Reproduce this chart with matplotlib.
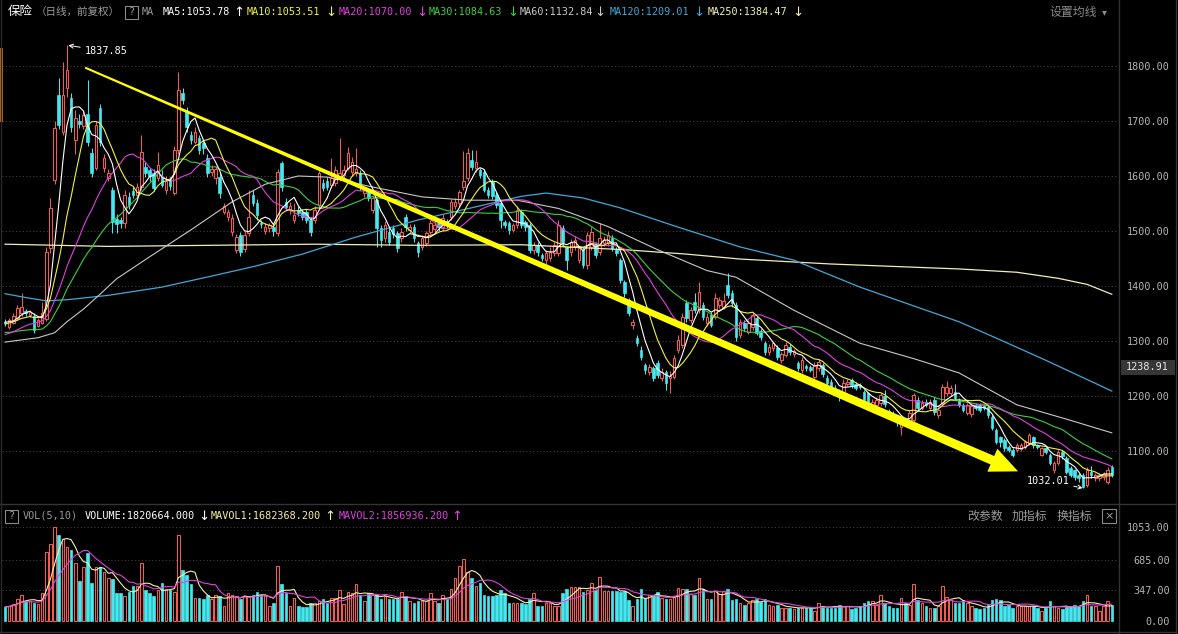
import numpy as np
import pandas as pd
import matplotlib
matplotlib.use("Agg")
import matplotlib.pyplot as plt
from matplotlib.patches import Polygon, Rectangle
from matplotlib.lines import Line2D

# ---------------- data ----------------
open_ = [
1335,1325,1333,1342,1350,1355,1348,1345,1328,1333,
1340,1469,1593,1747,1680,1760,1742,1665,1700,1690,
1712,1642,1615,1724,1615,1596,1575,1522,1520,1514,
1562,1572,1566,1580,1616,1610,1605,1596,1596,1575,
1592,1569,1647,1751,1716,1675,1662,1669,1660,1633,
1608,1596,1598,1535,1525,1498,1465,1493,1468,1496,
1566,1551,1514,1500,1505,1508,1496,1623,1553,1538,
1520,1538,1535,1535,1520,1520,1547,1587,1590,1584,
1587,1596,1602,1615,1607,1605,1605,1569,1571,1538,
1556,1505,1487,1498,1505,1496,1487,1525,1502,1507,
1478,1471,1478,1498,1504,1514,1505,1518,1525,1545,
1551,1580,1596,1629,1614,1611,1607,1575,1591,1566,
1551,1516,1514,1502,1511,1535,1516,1511,1465,1475,
1456,1447,1451,1460,1460,1505,1469,1462,1471,1447,
1465,1438,1471,1475,1462,1478,1478,1487,1465,1447,
1407,1375,1329,1305,1284,1256,1244,1251,1260,1233,
1244,1233,1235,1284,1293,1369,1338,1371,1356,1365,
1333,1347,1344,1365,1362,1402,1387,1365,1311,1333,
1316,1325,1342,1318,1296,1280,1287,1287,1265,1275,
1289,1276,1260,1247,1254,1252,1235,1250,1256,1233,
1226,1215,1209,1205,1222,1229,1222,1220,1207,1205,
1180,1184,1187,1200,1172,1168,1162,1144,1158,1153,
1156,1193,1178,1189,1178,1193,1165,1187,1205,1206,
1207,1193,1184,1169,1167,1184,1184,1182,1180,1162,
1138,1125,1120,1107,1102,1102,1104,1107,1114,1125,
1111,1093,1105,1093,1065,1078,1098,1087,1069,1065,
1056,1056,1038,1062,1050,1050,1053,1044,1071]

high = [
1340,1342,1350,1366,1387,1358,1356,1350,1342,1370,
1470,1560,1700,1778,1807,1837.85,1750,1720,1712,1720,
1775,1650,1700,1730,1640,1612,1580,1530,1525,1575,
1570,1580,1588,1674,1625,1615,1612,1644,1610,1600,
1598,1655,1789,1760,1725,1682,1689,1675,1665,1640,
1620,1618,1605,1550,1540,1530,1495,1498,1500,1575,
1575,1558,1520,1515,1515,1512,1612,1628,1560,1552,
1550,1545,1540,1540,1525,1545,1612,1595,1598,1633,
1618,1669,1620,1652,1635,1651,1610,1580,1575,1565,
1560,1510,1518,1505,1510,1500,1505,1530,1512,1512,
1482,1492,1500,1520,1518,1520,1530,1522,1558,1560,
1575,1645,1650,1647,1647,1615,1612,1580,1595,1570,
1555,1520,1518,1515,1545,1540,1520,1515,1480,1480,
1460,1465,1470,1480,1520,1510,1472,1485,1490,1472,
1470,1498,1508,1480,1514,1490,1500,1492,1470,1450,
1410,1378,1340,1310,1290,1260,1258,1255,1265,1250,
1248,1245,1275,1310,1350,1375,1362,1387,1407,1370,
1350,1352,1387,1380,1387,1424,1392,1370,1340,1338,
1338,1352,1346,1322,1300,1294,1300,1292,1280,1298,
1294,1286,1264,1270,1258,1256,1262,1268,1260,1238,
1230,1220,1212,1230,1230,1233,1226,1224,1210,1208,
1194,1198,1206,1210,1176,1172,1166,1160,1162,1174,
1206,1198,1192,1194,1194,1198,1180,1222,1227,1220,
1222,1197,1188,1188,1186,1188,1188,1186,1184,1166,
1142,1128,1124,1110,1106,1115,1114,1120,1132,1128,
1113,1108,1108,1096,1082,1102,1102,1090,1072,1068,
1060,1060,1070,1073,1060,1060,1062,1070,1075]

low = [
1328,1322,1330,1338,1346,1346,1344,1315,1325,1330,
1336,1460,1585,1685,1675,1744,1680,1640,1688,1685,
1655,1598,1610,1655,1608,1590,1496,1496,1505,1505,
1540,1560,1560,1575,1598,1590,1572,1590,1580,1568,
1575,1565,1640,1730,1680,1658,1658,1640,1640,1598,
1600,1585,1560,1530,1518,1490,1460,1455,1462,1490,
1545,1520,1505,1495,1498,1490,1490,1572,1538,1530,
1515,1528,1520,1515,1491,1515,1540,1572,1575,1578,
1582,1590,1596,1610,1600,1600,1575,1562,1555,1532,
1471,1471,1480,1475,1488,1462,1480,1500,1496,1480,
1453,1465,1472,1494,1498,1500,1500,1505,1520,1540,
1545,1575,1590,1610,1608,1596,1570,1560,1558,1542,
1505,1505,1495,1498,1505,1505,1500,1460,1458,1455,
1445,1440,1446,1455,1455,1475,1429,1455,1466,1442,
1432,1430,1466,1450,1456,1472,1472,1464,1455,1405,
1380,1345,1322,1290,1265,1240,1238,1228,1232,1228,
1211,1205,1230,1278,1288,1335,1332,1350,1350,1338,
1328,1325,1340,1360,1358,1378,1362,1300,1305,1318,
1312,1320,1310,1302,1275,1275,1282,1266,1260,1270,
1275,1271,1246,1242,1246,1244,1230,1245,1235,1220,
1210,1205,1190,1200,1218,1215,1210,1212,1188,1180,
1175,1180,1182,1180,1165,1155,1146,1129,1150,1148,
1150,1174,1174,1180,1174,1166,1160,1182,1200,1200,
1192,1180,1170,1165,1162,1174,1170,1174,1160,1138,
1112,1108,1100,1098,1089,1098,1100,1103,1110,1106,
1104,1090,1094,1074,1060,1074,1085,1058,1052,1048,
1044,1032.01,1035,1050,1045,1045,1048,1040,1052]

close = [
1332,1338,1346,1360,1362,1350,1352,1320,1338,1350,
1462,1542,1687,1693,1747,1793,1689,1705,1694,1710,
1662,1605,1693,1662,1633,1605,1516,1512,1515,1566,
1547,1565,1580,1644,1605,1600,1578,1620,1584,1590,
1582,1647,1756,1738,1689,1665,1680,1647,1650,1605,
1612,1612,1569,1545,1535,1524,1489,1462,1492,1526,
1551,1529,1512,1508,1510,1500,1607,1580,1544,1546,
1529,1533,1525,1520,1498,1538,1605,1578,1580,1596,
1611,1605,1611,1642,1625,1613,1580,1575,1560,1560,
1505,1484,1511,1480,1495,1469,1498,1507,1507,1487,
1462,1487,1496,1514,1511,1507,1524,1511,1553,1553,
1571,1591,1642,1616,1625,1602,1575,1566,1564,1547,
1520,1511,1502,1511,1538,1511,1507,1465,1475,1462,
1451,1460,1462,1475,1511,1480,1447,1480,1484,1469,
1438,1493,1498,1456,1487,1484,1493,1469,1460,1411,
1387,1351,1335,1296,1271,1247,1253,1233,1238,1244,
1224,1237,1269,1302,1344,1342,1356,1356,1389,1344,
1344,1329,1378,1375,1373,1384,1369,1307,1335,1324,
1333,1347,1315,1307,1280,1289,1296,1271,1276,1293,
1280,1282,1251,1265,1251,1248,1256,1262,1240,1224,
1215,1210,1206,1224,1226,1220,1215,1216,1193,1184,
1189,1193,1202,1185,1170,1160,1152,1156,1155,1169,
1202,1178,1187,1184,1189,1171,1175,1216,1216,1215,
1196,1184,1175,1184,1182,1178,1175,1178,1165,1142,
1116,1116,1105,1102,1093,1111,1110,1116,1129,1111,
1108,1105,1098,1078,1078,1098,1090,1062,1056,1052,
1050,1034,1065,1056,1056,1056,1058,1065,1056]

# closes before the visible window (for the short moving averages)
pre_close = [1330,1335,1322,1318,1328,1332,1325,1320,1330,1322,
             1300,1295,1288,1290,1285,1282,1292,1298,1290,1300,
             1310,1318,1325,1330,1328,1335,1332,1340,1336,1330]

# volume, in 10k lots
volume = [
155,172,190,248,293,224,224,207,190,310,
776,862,1052,966,914,828,793,655,448,604,
759,431,604,604,552,483,466,310,310,276,
328,397,397,655,345,310,276,345,431,362,
345,328,966,569,518,414,259,259,242,293,
242,293,276,172,310,293,276,242,276,276,
293,328,293,276,172,207,621,414,310,172,
259,172,155,155,207,207,224,242,207,259,
259,345,190,328,310,414,293,224,310,293,
293,242,276,242,242,242,328,276,224,207,
224,224,224,310,224,207,293,242,362,483,
621,690,552,483,397,431,293,276,276,293,
345,310,207,207,207,207,190,242,310,172,
172,207,207,172,172,310,362,380,380,380,
328,345,431,345,
496,340,340,340,340,323,340,236,167,243,
357,253,288,288,323,253,243,243,271,375,
357,357,305,288,486,357,243,243,340,305,
340,357,236,243,201,184,201,236,243,208,
243,184,167,184,149,149,149,139,149,149,
149,149,115,201,167,149,149,149,184,167,
167,132,149,167,201,229,219,184,288,201,
167,149,149,253,201,184,409,236,201,167,
149,149,167,392,
271,236,201,201,236,201,167,149,132,149,
184,236,243,236,167,184,149,167,167,167,
167,167,149,115,149,219,167,149,132,167,
167,184,167,219,288,167,167,115,167,219,
182]

# long moving averages (candle index, value)
ma60_idx = [0, 8, 12, 15, 19, 23, 27, 35, 45, 55, 63, 71, 78, 89, 101, 112, 124, 134, 146, 158, 170, 177, 191, 207, 220, 231, 245, 257, 268]
ma60_val = [1298, 1306, 1315, 1335, 1358, 1385, 1413, 1453, 1502, 1553, 1585, 1600, 1598, 1580, 1562, 1556, 1556, 1541, 1508, 1466, 1428, 1416, 1356, 1296, 1268, 1242, 1184, 1158, 1133]
ma120_idx = [0, 5, 10, 15, 25, 38, 50, 60, 72, 85, 100, 110, 125, 131, 140, 149, 163, 178, 191, 207, 231, 241, 252, 268]
ma120_val = [1386, 1379, 1373, 1375, 1383, 1398, 1418, 1435, 1458, 1489, 1520, 1537, 1563, 1569, 1560, 1542, 1507, 1471, 1447, 1398, 1335, 1302, 1265, 1209]
ma250_idx = [0, 25, 50, 75, 100, 125, 150, 165, 178, 200, 231, 245, 255, 262, 268]
ma250_val = [1476, 1472, 1474, 1476, 1474, 1475, 1466, 1458, 1449, 1440, 1431, 1425, 1414, 1403, 1385]

price_ticks = [1100, 1200, 1300, 1400, 1500, 1600, 1700, 1800]
vol_ticks = [0, 347, 685, 1053]

arrow_x = [19.4, 245.3]
arrow_y = [1797, 1063]

# ---------------- style ----------------
W, H = 1178, 634
BG = "#000000"
RED = "#f25a52"
CYAN = "#45e8ee"
C_MA5 = "#ffffff"
C_MA10 = "#f2f23c"
C_MA20 = "#e040e0"
C_MA30 = "#3ccf3c"
C_MA60 = "#c8c8c8"
C_MA120 = "#3fa8d8"
C_MA250 = "#f2eeb4"
GRID = "#4a4a4a"
AXTXT = "#b4b4b4"
MONO = ["DejaVu Sans Mono", "DejaVu Sans"]
CJK = ["Noto Sans CJK SC", "DejaVu Sans"]
ARW = ["DejaVu Sans"]

fig = plt.figure(figsize=(W / 100, H / 100), dpi=100, facecolor=BG)


def fx(x):
    return x / W


def fy(y):
    return 1 - y / H


ax = fig.add_axes([fx(2), fy(503), (1118 - 2) / W, (503 - 22) / H], facecolor=BG)
axv = fig.add_axes([fx(2), fy(631), (1118 - 2) / W, (631 - 507) / H], facecolor=BG)

n = len(close)
idx = np.arange(n)
o = np.array(open_, float)
h = np.array(high, float)
l = np.array(low, float)
c = np.array(close, float)
up = c >= o
blo = np.minimum(o, c)
bhi = np.maximum(o, c)

for a in (ax, axv):
    a.set_xlim(-0.73, 269.5)
    for s in a.spines.values():
        s.set_visible(False)
    a.tick_params(axis="x", bottom=False, labelbottom=False)
    a.yaxis.tick_right()
    a.tick_params(axis="y", length=0, pad=37.4, labelsize=7.3, labelcolor=AXTXT)

ax.set_ylim(1005.45, 1880)
axv.set_ylim(-112, 1277)

ax.set_yticks(price_ticks)
ax.set_yticklabels([f"{v:.2f}" for v in price_ticks], family=MONO)
axv.set_yticks(vol_ticks)
axv.set_yticklabels([f"{v:.2f}" for v in vol_ticks], family=MONO)
for a in (ax, axv):
    for lab in a.get_yticklabels():
        lab.set_horizontalalignment("right")

for v in price_ticks:
    ax.axhline(v, color=GRID, lw=0.7, ls=(0, (1, 2.5)), zorder=1)
for v in vol_ticks[1:]:
    axv.axhline(v, color=GRID, lw=0.7, ls=(0, (1, 2.5)), zorder=1)

# candles
BW = 0.62
ax.vlines(idx[up], l[up], blo[up], color=RED, lw=0.75, zorder=3)
ax.vlines(idx[up], bhi[up], h[up], color=RED, lw=0.75, zorder=3)
ax.bar(idx[up], np.maximum(bhi[up] - blo[up], 0.5), bottom=blo[up], width=BW,
       facecolor=BG, edgecolor=RED, linewidth=0.75, zorder=3)
ax.vlines(idx[~up], l[~up], h[~up], color=CYAN, lw=0.75, zorder=3)
ax.bar(idx[~up], np.maximum(bhi[~up] - blo[~up], 0.5), bottom=blo[~up], width=BW,
       facecolor=CYAN, edgecolor=CYAN, linewidth=0.5, zorder=3)

# moving averages
full = pd.Series(pre_close + close, dtype=float)


def ma(k):
    return full.rolling(k, min_periods=1).mean().to_numpy()[len(pre_close):]


ax.plot(ma250_idx, ma250_val, color=C_MA250, lw=0.9, zorder=4)
ax.plot(ma120_idx, ma120_val, color=C_MA120, lw=0.9, zorder=4)
ax.plot(ma60_idx, ma60_val, color=C_MA60, lw=0.8, zorder=4)
ax.plot(idx, ma(30), color=C_MA30, lw=0.8, zorder=4)
ax.plot(idx, ma(20), color=C_MA20, lw=0.8, zorder=4)
ax.plot(idx, ma(10), color=C_MA10, lw=0.8, zorder=4)
ax.plot(idx, ma(5), color=C_MA5, lw=0.8, zorder=4)

# big yellow trend arrow (tapered shaft)
T = ax.transData
p0 = T.transform((arrow_x[0], arrow_y[0]))
p1 = T.transform((arrow_x[1], arrow_y[1]))
d = (p1 - p0) / np.hypot(*(p1 - p0))
nrm = np.array([-d[1], d[0]])
base = p1 - d * 28
pts = [p0 + nrm * 1.0, base + nrm * 4.6, base + nrm * 12.5, p1,
       base - nrm * 12.5, base - nrm * 4.6, p0 - nrm * 1.0]
ax.add_patch(Polygon(T.inverted().transform(pts), closed=True, facecolor="#ffff00",
                     edgecolor="none", zorder=6, clip_on=False))

# extreme labels
ax.annotate("1837.85", xy=(15, 1837.85), xytext=(19.2, 1827), color="white",
            fontsize=7.3, family=MONO, va="center", ha="left", zorder=7,
            arrowprops=dict(arrowstyle="->", color="white", lw=0.7, shrinkA=1, shrinkB=1))
ax.annotate("1032.01", xy=(261.3, 1032.01), xytext=(247.4, 1045.5), color="white",
            fontsize=7.3, family=MONO, va="center", ha="left", zorder=7,
            arrowprops=dict(arrowstyle="->", color="white", lw=0.7, ls="--",
                            shrinkA=1, shrinkB=1))

# volume bars
v = np.array(volume, float)
axv.bar(idx[up], v[up], width=BW, facecolor=BG, edgecolor=RED, linewidth=0.75, zorder=3)
axv.bar(idx[~up], v[~up], width=BW, facecolor=CYAN, edgecolor=CYAN, linewidth=0.5, zorder=3)
vs = pd.Series(v)
axv.plot(idx, vs.rolling(5, min_periods=1).mean(), color="#f5f0a0", lw=0.8, zorder=4)
axv.plot(idx, vs.rolling(10, min_periods=1).mean(), color=C_MA20, lw=0.8, zorder=4)

# ---------------- frame / separators ----------------
def hline(y, x0, x1, col="#343434", lw=1.0):
    fig.add_artist(Line2D([fx(x0), fx(x1)], [fy(y), fy(y)], color=col, lw=lw))


def vline(x, y0, y1, col="#343434", lw=1.0):
    fig.add_artist(Line2D([fx(x), fx(x)], [fy(y0), fy(y1)], color=col, lw=lw))


hline(504, 0, 1176)
hline(632, 0, 1176)
vline(1118.5, 0, 634)
vline(1175.5, 0, 634)
vline(0.5, 0, 634, col="#2a2a2a")
fig.add_artist(Rectangle((fx(0), fy(122)), fx(2.5), (122 - 48) / H, transform=fig.transFigure,
                         facecolor="#d06a10", edgecolor="none"))

# price box on the axis
fig.add_artist(Rectangle((fx(1121), fy(375)), (1175 - 1121) / W, 15 / H, transform=fig.transFigure,
                         facecolor="#363636", edgecolor="none"))
fig.text(fx(1169), fy(367.5), "1238.91", color="#e8e8e8", fontsize=7.3, family=MONO,
         ha="right", va="center")


# ---------------- header rows ----------------
def qbox(x0, yc):
    fig.add_artist(Rectangle((fx(x0), fy(yc + 6.5)), 13 / W, 13 / H, transform=fig.transFigure,
                             facecolor="none", edgecolor="#8a8a8a", lw=0.8))
    fig.text(fx(x0 + 6.5), fy(yc), "?", color="#a0a0a0", fontsize=7.3, family=MONO,
             ha="center", va="center")


def t(x, yc, s, col, size=7.3, fam=MONO):
    fig.text(fx(x), fy(yc), s, color=col, fontsize=size, family=fam, ha="left", va="center")


Y1 = 12
t(8, Y1, "保险", "#ffffff", 9, CJK)
t(36, Y1, "（日线，前复权）", "#9a9a9a", 7.6, CJK)
qbox(125, Y1)
t(142, Y1, "MA", "#9a9a9a")
t(163, Y1, "MA5:1053.78", C_MA5)
t(233, Y1, "↑", C_MA5, 9.5, ARW)
t(247, Y1, "MA10:1053.51", C_MA10)
t(325, Y1, "↓", C_MA10, 9.5, ARW)
t(339, Y1, "MA20:1070.00", C_MA20)
t(416, Y1, "↓", C_MA20, 9.5, ARW)
t(429, Y1, "MA30:1084.63", C_MA30)
t(507, Y1, "↓", C_MA30, 9.5, ARW)
t(520, Y1, "MA60:1132.84", C_MA60)
t(594, Y1, "↓", C_MA60, 9.5, ARW)
t(610, Y1, "MA120:1209.01", C_MA120)
t(693, Y1, "↓", C_MA120, 9.5, ARW)
t(708, Y1, "MA250:1384.47", C_MA250)
t(792, Y1, "↓", C_MA250, 9.5, ARW)
t(1049, Y1, "设置均线", "#8a8a8a", 8.6, CJK)
t(1102, Y1, "▾", "#8a8a8a", 7, ARW)

Y2 = 516
qbox(5, Y2)
t(23, Y2, "VOL(5,10)", "#9a9a9a")
t(85, Y2, "VOLUME:1820664.000", "#ffffff")
t(198, Y2, "↓", "#ffffff", 9.5, ARW)
t(211, Y2, "MAVOL1:1682368.200", "#f5f0a0")
t(324, Y2, "↑", "#f5f0a0", 9.5, ARW)
t(339, Y2, "MAVOL2:1856936.200", C_MA20)
t(451, Y2, "↑", C_MA20, 9.5, ARW)
t(967, Y2, "改参数", "#9a9a9a", 8.6, CJK)
t(1012, Y2, "加指标", "#9a9a9a", 8.6, CJK)
t(1057, Y2, "换指标", "#9a9a9a", 8.6, CJK)
fig.add_artist(Rectangle((fx(1102), fy(523)), 14 / W, 14 / H, transform=fig.transFigure,
                         facecolor="none", edgecolor="#8a8a8a", lw=0.8))
fig.text(fx(1109), fy(516), "×", color="#a0a0a0", fontsize=8, ha="center", va="center",
         family=ARW)

fig.savefig("out.png", dpi=100, facecolor=BG)
